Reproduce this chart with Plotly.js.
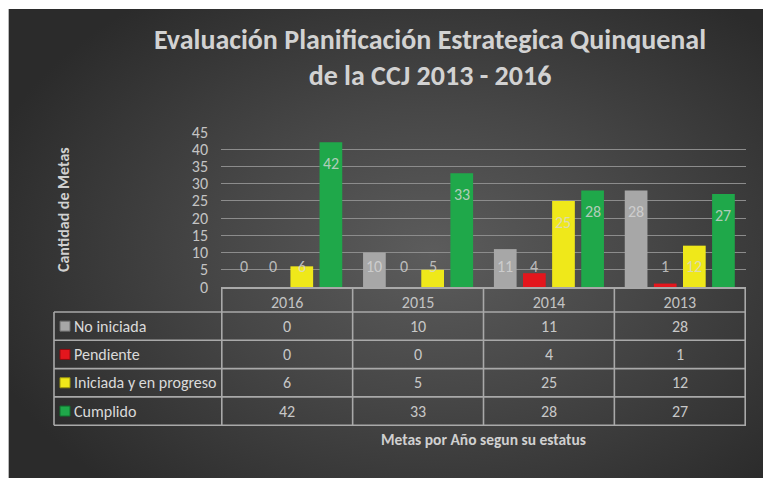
<!DOCTYPE html>
<html>
<head>
<meta charset="utf-8">
<script src="https://cdn.plot.ly/plotly-3.0.1.min.js"></script>
<style>
  body { margin: 0; background: #ffffff; }
  #bg {
    position: absolute; left: 8px; top: 9px; width: 755px; height: 469px;
    border-left: 1px solid #b8b8b8;
    background: radial-gradient(ellipse 62% 68% at 56% 52%, #5c5c5c 0%, #474747 45%, #2b2b2b 100%);
  }
  #chart { position: absolute; left: 0; top: 0; width: 763px; height: 478px; }
</style>
</head>
<body>
<div id="bg"></div>
<div id="chart"></div>
<script>
// data
const years = ['2016', '2015', '2014', '2013'];
const seriesNames = ['No iniciada', 'Pendiente', 'Iniciada y en progreso', 'Cumplido'];
const noIniciada = [0, 10, 11, 28];
const pendiente = [0, 0, 4, 1];
const iniciada = [6, 5, 25, 12];
const cumplido = [42, 33, 28, 27];
const seriesColors = ['#a7a7a7', '#e3161d', '#efe81a', '#1fa84a'];
const edgeColors = ['#6e6e6e', '#8f0c10', '#9c960c', '#11702f'];

const allSeries = [noIniciada, pendiente, iniciada, cumplido];
const FONT = 'Calibri, Carlito, Lato, sans-serif';
const W = 763, H = 478;
const M = { l: 221, r: 17, t: 132, b: 191 };
const plotH = H - M.t - M.b;
const plotW = W - M.l - M.r;
const BARGAP = 0.11;

// pixel helpers for the table under the axis
const py = p => -p / plotH;              // p = pixels below the axis line
const px = p => (p - M.l) / plotW;       // p = absolute x pixel

const traces = allSeries.map((vals, i) => ({
  type: 'bar',
  name: seriesNames[i],
  x: years,
  y: vals,
  marker: { color: seriesColors[i], line: { width: 0 } },
  hoverinfo: 'x+y+name'
}));

const annotations = [];
const shapes = [];

// data labels, inside the top of the bar, floored near the baseline
const slot = (1 - BARGAP) / allSeries.length;
allSeries.forEach((vals, i) => {
  const off = -(1 - BARGAP) / 2 + (i + 0.5) * slot;
  vals.forEach((v, j) => {
    annotations.push({
      xref: 'x', yref: 'y', x: j + off, y: Math.max(v - 6.2, 5.9),
      text: String(v), showarrow: false,
      font: { family: FONT, size: 16, color: 'rgba(215,215,215,0.8)' }
    });
  });
});

// data table
const headerH = 25, rowH = 28.3;
const leftX = 54;
const lineStyle = { color: '#a9a9a9', width: 1.6 };
const tableBottom = headerH + rowH * seriesNames.length;
for (let r = 0; r <= seriesNames.length; r++) {
  const yy = py(headerH + r * rowH);
  shapes.push({ type: 'line', xref: 'paper', yref: 'paper', x0: px(leftX), x1: 1, y0: yy, y1: yy, line: lineStyle });
}
shapes.push({ type: 'line', xref: 'paper', yref: 'paper', x0: px(leftX), x1: px(leftX), y0: py(headerH), y1: py(tableBottom), line: lineStyle });
for (let c = 0; c <= years.length; c++) {
  shapes.push({ type: 'line', xref: 'x', yref: 'paper', x0: c - 0.5, x1: c - 0.5, y0: 0, y1: py(tableBottom), line: lineStyle });
}
seriesNames.forEach((name, r) => {
  const yc = py(headerH + (r + 0.5) * rowH);
  const halfPx = 5 / plotH;
  shapes.push({
    type: 'rect', xref: 'paper', yref: 'paper',
    x0: px(60), x1: px(70), y0: yc - halfPx, y1: yc + halfPx,
    fillcolor: seriesColors[r], line: { color: edgeColors[r], width: 1 }
  });
  annotations.push({
    xref: 'paper', yref: 'paper', x: px(72), y: yc, xanchor: 'left', yanchor: 'middle',
    text: name, showarrow: false, font: { family: FONT, size: 16, color: '#dadada' }
  });
  allSeries[r].forEach((v, j) => {
    annotations.push({
      xref: 'x', yref: 'paper', x: j, y: yc, yanchor: 'middle',
      text: String(v), showarrow: false, font: { family: FONT, size: 16, color: '#c8c8c8' }
    });
  });
});

// axis titles
annotations.push({
  xref: 'paper', yref: 'paper', x: 0.5, y: py(152), yanchor: 'middle',
  text: 'Metas por Año segun su estatus', showarrow: false,
  font: { family: FONT, size: 15.5, color: '#d0d0d0', weight: 700 }
});
annotations.push({
  xref: 'paper', yref: 'paper', x: px(52), y: 0.5, textangle: -90,
  text: 'Cantidad de Metas', showarrow: false,
  font: { family: FONT, size: 16, color: '#d0d0d0', weight: 700 }
});

const layout = {
  width: W, height: H,
  margin: M,
  paper_bgcolor: 'rgba(0,0,0,0)',
  plot_bgcolor: 'rgba(0,0,0,0)',
  font: { family: FONT, color: '#c4c4c4' },
  title: {
    text: 'Evaluación Planificación Estrategica Quinquenal<br>de la CCJ 2013 - 2016',
    x: 430 / W, xanchor: 'center', y: 1 - 49 / H, yanchor: 'middle',
    font: { family: FONT, size: 28, color: '#d2d2d2', weight: 700 }
  },
  barmode: 'group',
  bargap: BARGAP,
  bargroupgap: 0.22,
  showlegend: false,
  xaxis: {
    type: 'category', categoryorder: 'array', categoryarray: years,
    showgrid: false, zeroline: false, ticks: '',
    showline: true, linecolor: '#a9a9a9', linewidth: 2,
    tickfont: { family: FONT, size: 16, color: '#c4c4c4' }
  },
  yaxis: {
    range: [0, 45], dtick: 5, showgrid: true, gridcolor: '#8c8c8c', gridwidth: 1,
    zeroline: false, showline: false, ticks: '', ticklabelstandoff: 12,
    tickfont: { family: FONT, size: 16, color: '#c4c4c4' }
  },
  shapes: shapes,
  annotations: annotations
};

Plotly.newPlot('chart', traces, layout, { displayModeBar: false, staticPlot: true });
</script>
</body>
</html>
